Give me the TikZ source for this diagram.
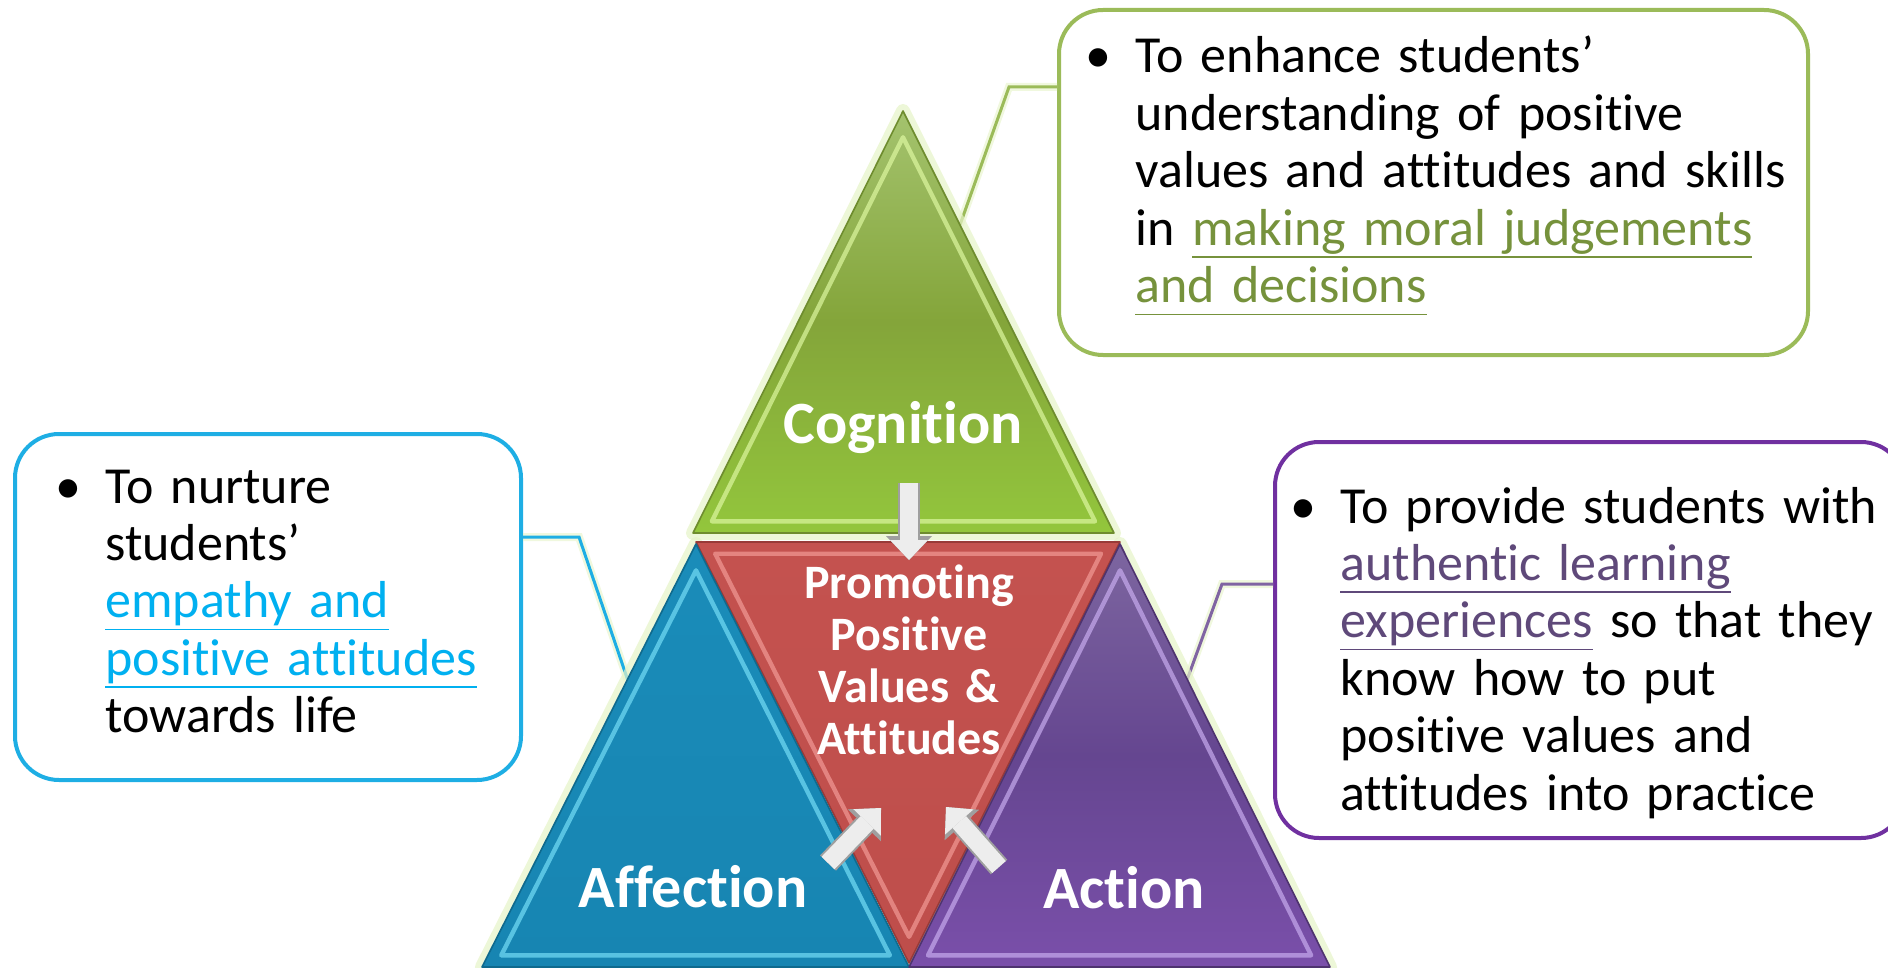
\documentclass[tikz,border=0pt]{standalone}
\usepackage{fontspec}
\setmainfont[Ligatures=NoCommon]{Carlito}
\usetikzlibrary{arrows.meta,calc}
\newcommand{\uln}[1]{\leavevmode\setbox0\hbox{#1}\rlap{\rule[-6.2pt]{\wd0}{0.7pt}}\box0}
\definecolor{cogA}{HTML}{A4C36E}
\definecolor{cogB}{HTML}{84A53A}
\definecolor{cogC}{HTML}{93C63C}
\definecolor{cogedge}{HTML}{6E8C2E}
\definecolor{coglight}{HTML}{DDF7A0}
\definecolor{coreA}{HTML}{C4524F}
\definecolor{coreB}{HTML}{BE4E4B}
\definecolor{coreedge}{HTML}{983A38}
\definecolor{corelight}{HTML}{F29A96}
\definecolor{affA}{HTML}{1A8CB9}
\definecolor{affB}{HTML}{1785B2}
\definecolor{affedge}{HTML}{0F6A8E}
\definecolor{afflight}{HTML}{74DDF6}
\definecolor{actA}{HTML}{7D66A0}
\definecolor{actB}{HTML}{654690}
\definecolor{actC}{HTML}{7A4FAA}
\definecolor{actedge}{HTML}{4E336F}
\definecolor{actlight}{HTML}{C7ABEE}
\definecolor{cogline}{HTML}{9BBB59}
\definecolor{affline}{HTML}{1EAEE4}
\definecolor{actline}{HTML}{7030A0}
\definecolor{actlink}{HTML}{8064A2}
\definecolor{cogtxt}{HTML}{76923C}
\definecolor{afftxt}{HTML}{00B0F0}
\definecolor{acttxt}{HTML}{5F497A}
\definecolor{glowc}{HTML}{E6F3C8}
\tikzset{
  tri/.style={line width=0.8pt, line join=round},
  bevel/.style={line width=2.2pt, line join=round, opacity=0.7},
  glow/.style={draw=glowc, line width=7pt, line join=round, opacity=0.7},
  trilabel/.style={text=white, font=\fontsize{30}{32}\selectfont\bfseries, inner sep=0pt},
  corelabel/.style={text=white, font=\fontsize{24}{26}\selectfont\bfseries, inner sep=0pt,
    align=center, text width=130pt},
  box/.style={draw, line width=2pt, rounded corners=22pt, fill=white},
  boxtext/.style={font=\fontsize{26}{28.7}\selectfont, align=left, inner sep=0pt},
  link/.style={line width=1.5pt, preaction={draw=glowc, line width=4pt, opacity=0.6}},
  arrow3d/.style={draw=white!93!black, line width=9pt,
    -{Triangle[width=19pt,length=10pt,line width=0pt]},
    preaction={draw=gray!75, line width=11pt, -{Triangle[width=23pt,length=12pt,line width=0pt]}}}
}
\begin{document}
\begin{tikzpicture}[x=0.5pt,y=-0.5pt]
  \clip[use as bounding box] (0,0) rectangle (1888,968);
  \coordinate (cogtop) at (903,111);
  \coordinate (cogleft) at (693,533);
  \coordinate (cogright) at (1114,533);
  \coordinate (cogin) at (903,403);
  \coordinate (coreleft) at (696,542);
  \coordinate (coreright) at (1120,542);
  \coordinate (corebot) at (909,963);
  \coordinate (corein) at (909,672);
  \coordinate (afftop) at (696,544);
  \coordinate (affleft) at (482,967);
  \coordinate (affright) at (909,967);
  \coordinate (affin) at (696,837);
  \coordinate (acttop) at (1120,544);
  \coordinate (actleft) at (909,967);
  \coordinate (actright) at (1330,967);
  \coordinate (actin) at (1120,837);

  \node[box, draw=cogline, minimum width=374.5pt, minimum height=172.5pt] (cogbox) at (1433.5,182.5) {};
  \node[box, draw=affline, minimum width=253pt, minimum height=173pt] (affbox) at (268,607) {};
  \node[box, draw=actline, minimum width=315pt, minimum height=198pt] (actbox) at (1590,640) {};

  \node[boxtext, anchor=base west, text width=345pt] (cogtext) at (1135,73)
    {\llap{\textbullet\hspace{12pt}}To enhance students’\\
     understanding of positive\\
     values and attitudes and skills\\
     in {\color{cogtxt}\uln{making moral judgements}}\\
     {\color{cogtxt}\uln{and decisions}}};
  \node[boxtext, anchor=base west, text width=200pt] (afftext) at (105,503)
    {\llap{\textbullet\hspace{12pt}}To nurture\\
     students’\\
     {\color{afftxt}\uln{empathy and}}\\
     {\color{afftxt}\uln{positive attitudes}}\\
     towards life};
  \node[boxtext, anchor=base west, text width=280pt] (acttext) at (1340,523)
    {\llap{\textbullet\hspace{12pt}}To provide students with\\
     {\color{acttxt}\uln{authentic learning}}\\
     {\color{acttxt}\uln{experiences}} so that they\\
     know how to put\\
     positive values and\\
     attitudes into practice};

  \coordinate (cogknee) at (1009,87);
  \coordinate (cogend) at ($(cogtop)!0.27!(cogright)$);
  \coordinate (affknee) at (579,537);
  \coordinate (affend) at ($(afftop)!0.32!(affleft)$);
  \coordinate (actknee) at (1222,584);
  \coordinate (actend) at ($(acttop)!0.32!(actright)$);
  \draw[link, cogline] (cogbox.west |- cogknee) -- (cogknee) -- (cogend);
  \draw[link, affline] (affbox.east |- affknee) -- (affknee) -- (affend);
  \draw[link, actlink] (actbox.west |- actknee) -- (actknee) -- (actend);

  \foreach \a/\b/\c in {cogtop/cogleft/cogright, afftop/affleft/affright, acttop/actleft/actright}
    \draw[glow] (\a) -- (\b) -- (\c) -- cycle;

  \draw[tri, draw=cogedge, top color=cogA, bottom color=cogC, middle color=cogB]
    (cogtop) -- (cogleft) -- (cogright) -- cycle;
  \draw[bevel, draw=coglight] ($(cogin)!0.91!(cogtop)$) -- ($(cogin)!0.91!(cogleft)$)
    -- ($(cogin)!0.91!(cogright)$) -- cycle;
  \draw[tri, draw=coreedge, top color=coreA, bottom color=coreB]
    (coreleft) -- (coreright) -- (corebot) -- cycle;
  \draw[bevel, draw=corelight] ($(corein)!0.91!(coreleft)$) -- ($(corein)!0.91!(coreright)$)
    -- ($(corein)!0.91!(corebot)$) -- cycle;
  \draw[tri, draw=affedge, top color=affA, bottom color=affB]
    (afftop) -- (affleft) -- (affright) -- cycle;
  \draw[bevel, draw=afflight] ($(affin)!0.91!(afftop)$) -- ($(affin)!0.91!(affleft)$)
    -- ($(affin)!0.91!(affright)$) -- cycle;
  \draw[tri, draw=actedge, top color=actA, bottom color=actC, middle color=actB]
    (acttop) -- (actleft) -- (actright) -- cycle;
  \draw[bevel, draw=actlight] ($(actin)!0.91!(acttop)$) -- ($(actin)!0.91!(actleft)$)
    -- ($(actin)!0.91!(actright)$) -- cycle;

  \node[trilabel, anchor=base] (cog) at (903,443) {Cognition};
  \node[trilabel, anchor=base] (aff) at (693,907) {Affection};
  \node[trilabel, anchor=base] (act) at (1124,908) {Action};
  \node[corelabel, anchor=base] (core) at (909,598) {Promoting\\ Positive\\ Values \&\\ Attitudes};

  \coordinate (downtail) at (909,483);
  \coordinate (downtip) at (909,560);
  \coordinate (afftail) at (828,863);
  \coordinate (afftip) at (881,808);
  \coordinate (acttail) at (999,867);
  \coordinate (acttip) at (946,807);
  \draw[arrow3d] (downtail) -- (downtip);
  \draw[arrow3d] (afftail) -- (afftip);
  \draw[arrow3d] (acttail) -- (acttip);
\end{tikzpicture}
\end{document}
